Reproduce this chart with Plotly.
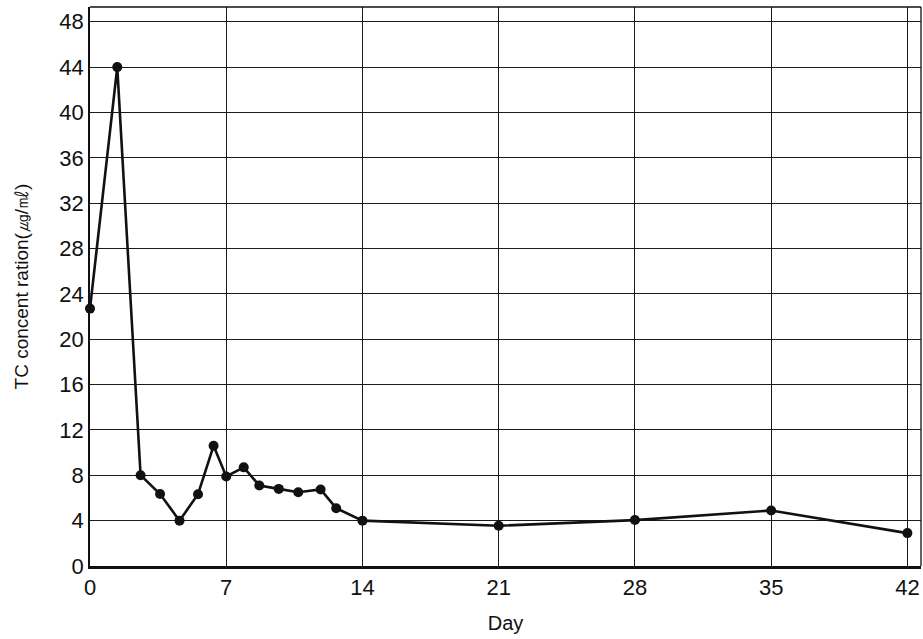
import plotly.graph_objects as go

days = [0, 1.4, 2.6, 3.6, 4.6, 5.55, 6.35, 7.0, 7.9, 8.7, 9.7, 10.7, 11.85, 12.65, 14, 21, 28, 35, 42]
tc = [22.7, 44.0, 8.0, 6.35, 4.0, 6.33, 10.6, 7.9, 8.7, 7.1, 6.8, 6.5, 6.75, 5.1, 4.0, 3.55, 4.05, 4.9, 2.9]

x_ticks = [0, 7, 14, 21, 28, 35, 42]
y_ticks = [0, 4, 8, 12, 16, 20, 24, 28, 32, 36, 40, 44, 48]

ink = "#111111"
fig = go.Figure()
fig.add_trace(go.Scatter(
    x=days, y=tc, mode="lines+markers",
    line=dict(color=ink, width=2.6),
    marker=dict(color=ink, size=10),
    showlegend=False, cliponaxis=False,
))

fig.update_layout(
    width=923, height=639,
    margin=dict(l=90, r=2, t=7, b=73),
    paper_bgcolor="white", plot_bgcolor="white",
    font=dict(family="Liberation Sans, Arial, sans-serif", color=ink, size=20),
    xaxis=dict(
        range=[0, 42.7], tickvals=x_ticks, ticktext=[str(v) for v in x_ticks],
        showgrid=True, gridcolor="#1a1a1a", gridwidth=1.3,
        showline=True, linecolor=ink, linewidth=2.5,
        ticks="", zeroline=False, tickfont=dict(size=22),
        title=dict(text="Day", font=dict(size=20), standoff=17),
    ),
    yaxis=dict(
        range=[0, 49.3], tickvals=y_ticks, ticktext=[str(v) for v in y_ticks],
        showgrid=True, gridcolor="#1a1a1a", gridwidth=1.3,
        showline=True, linecolor=ink, linewidth=1.5,
        ticks="", zeroline=False, tickfont=dict(size=22),
        title=dict(text="TC concent ration(㎍/㎖)", font=dict(size=19), standoff=26),
    ),
    shapes=[
        dict(type="line", xref="paper", yref="paper", x0=0, x1=1, y0=1, y1=1,
             line=dict(color=ink, width=1.3)),
        dict(type="line", xref="paper", yref="paper", x0=1, x1=1, y0=0, y1=1,
             line=dict(color=ink, width=1.3)),
    ],
)

fig.write_html("out.html")
